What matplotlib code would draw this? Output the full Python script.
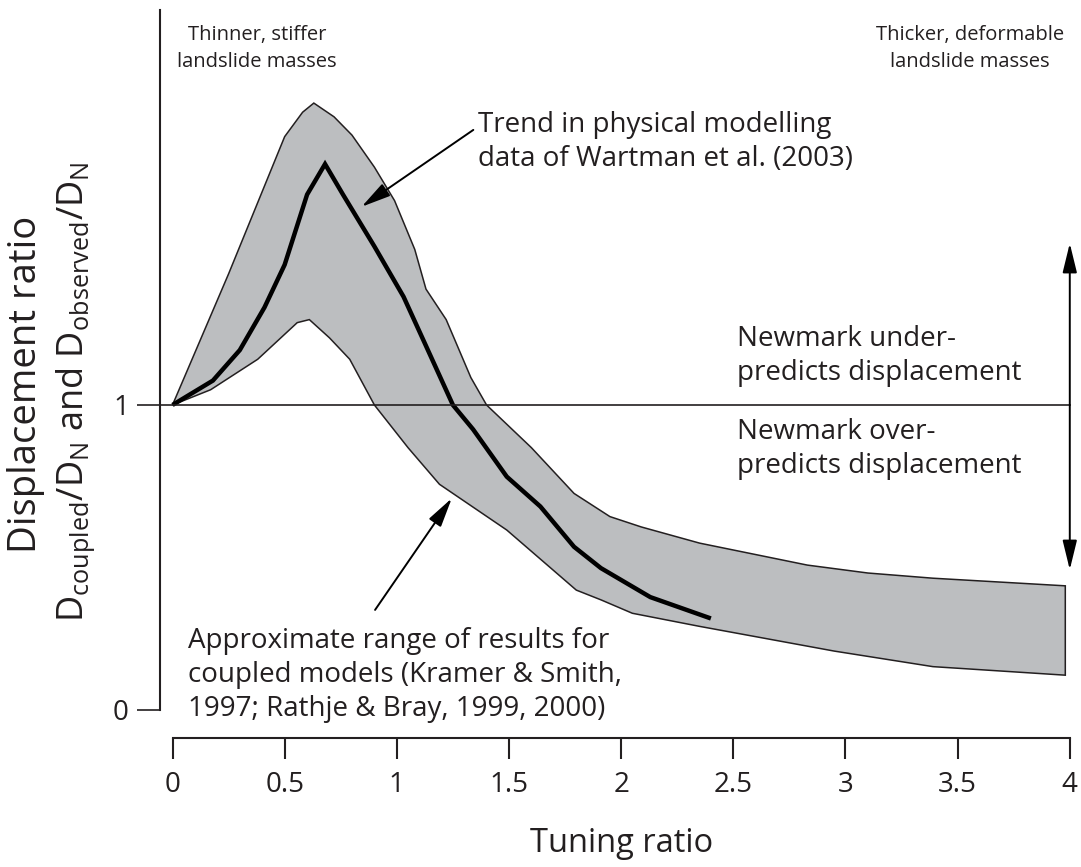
import numpy as np
import matplotlib.pyplot as plt

plt.rcParams['font.family'] = ['Open Sans', 'DejaVu Sans']
plt.rcParams['mathtext.fontset'] = 'custom'
plt.rcParams['mathtext.rm'] = 'Open Sans'
plt.rcParams['mathtext.it'] = 'Open Sans:italic'

ink = '#231f20'
band_grey = '#bcbec0'

# upper edge of the range of coupled-model results
upper_x = [0.00, 0.25, 0.50, 0.58, 0.63, 0.72, 0.80, 0.90, 0.99, 1.08, 1.13,
           1.22, 1.33, 1.40, 1.60, 1.79, 1.95, 2.09, 2.35, 2.83, 3.10, 3.39, 3.98]
upper_y = [1.00, 1.43, 1.88, 1.96, 1.99, 1.945, 1.885, 1.78, 1.67, 1.51, 1.38,
           1.28, 1.09, 1.00, 0.86, 0.71, 0.634, 0.60, 0.547, 0.475, 0.449, 0.432, 0.407]

# lower edge
lower_x = [0.00, 0.17, 0.38, 0.556, 0.61, 0.70, 0.79, 0.90, 1.05, 1.19, 1.49,
           1.80, 1.91, 2.05, 2.35, 2.95, 3.39, 3.98]
lower_y = [1.00, 1.05, 1.15, 1.27, 1.28, 1.22, 1.15, 1.00, 0.86, 0.74, 0.59,
           0.393, 0.361, 0.317, 0.274, 0.193, 0.142, 0.114]

# Wartman et al. (2003) physical modelling trend
trend_x = [0.00, 0.18, 0.30, 0.41, 0.50, 0.60, 0.68, 0.76, 0.90, 1.03, 1.12,
           1.25, 1.34, 1.49, 1.64, 1.79, 1.91, 2.13, 2.40]
trend_y = [1.00, 1.08, 1.18, 1.32, 1.46, 1.69, 1.79, 1.69, 1.52, 1.355, 1.21,
           1.00, 0.92, 0.765, 0.667, 0.535, 0.465, 0.37, 0.30]

x_ticks = [0, 0.5, 1, 1.5, 2, 2.5, 3, 3.5, 4]
x_tick_labels = ['0', '0.5', '1', '1.5', '2', '2.5', '3', '3.5', '4']
y_ticks = [0, 1]
y_tick_labels = ['0', '1']

newmark_ratio = 1.0
x_max = 4.0

fig = plt.figure(figsize=(10.81, 8.67), dpi=100)
ax = fig.add_axes([0, 0, 1, 1])

# shaded band
band_x = np.r_[upper_x, lower_x[::-1]]
band_y = np.r_[upper_y, lower_y[::-1]]
ax.fill(band_x, band_y, facecolor=band_grey, edgecolor=ink, lw=1.1, joinstyle='miter')

# trend line
ax.plot(trend_x, trend_y, color='black', lw=3.2, solid_capstyle='butt', solid_joinstyle='miter')

# ratio = 1 reference line
y_axis_x = -0.055
ax.plot([y_axis_x, x_max], [newmark_ratio, newmark_ratio], color=ink, lw=1.2)

# under/over-prediction double arrow
arrow_style = dict(color='black', lw=1.4, shrinkA=0, shrinkB=0, mutation_scale=20)
ax.annotate('', xy=(x_max, 1.53), xytext=(x_max, 0.46),
            arrowprops=dict(arrowstyle='<|-|>,head_length=0.9,head_width=0.22', **arrow_style))

# annotations
txt = dict(color=ink, fontsize=20, linespacing=1.3)
ax.annotate('', xy=(0.843, 1.650), xytext=(1.341, 1.902),
            arrowprops=dict(arrowstyle='-|>,head_length=0.9,head_width=0.22', **arrow_style))
ax.text(1.362, 1.862, 'Trend in physical modelling\ndata of Wartman et al. (2003)',
        ha='left', va='center', **txt)

ax.annotate('', xy=(1.245, 0.694), xytext=(0.903, 0.328),
            arrowprops=dict(arrowstyle='-|>,head_length=0.9,head_width=0.22', **arrow_style))
ax.text(0.069, 0.115, 'Approximate range of results for\ncoupled models (Kramer & Smith,\n'
        '1997; Rathje & Bray, 1999, 2000)', ha='left', va='center', **txt)

ax.text(2.515, 1.161, 'Newmark under-\npredicts displacement', ha='left', va='center', **txt)
ax.text(2.515, 0.856, 'Newmark over-\npredicts displacement', ha='left', va='center', **txt)

ax.text(0.377, 2.170, 'Thinner, stiffer\nlandslide masses', ha='center', va='center',
        color=ink, fontsize=14.5, linespacing=1.45)
ax.text(3.556, 2.170, 'Thicker, deformable\nlandslide masses', ha='center', va='center',
        color=ink, fontsize=14.5, linespacing=1.45)

# axis labels
ax.text(-0.655, 1.066, 'Displacement ratio', rotation=90, ha='center', va='center',
        color=ink, fontsize=27.5)
ax.text(-0.43, 1.043, r'$\mathregular{D_{coupled}/D_N}$ and $\mathregular{D_{observed}/D_N}$',
        rotation=90, ha='center', va='center', color=ink, fontsize=26)
ax.set_xlabel('Tuning ratio', fontsize=23.5, color=ink, labelpad=20)
ax.xaxis.label.set_x(0.575)

# axes
ax.set_xlim(-0.769, 4.050)
ax.set_ylim(-0.515, 2.328)
for side in ['top', 'right']:
    ax.spines[side].set_visible(False)
ax.spines['left'].set_position(('data', y_axis_x))
ax.spines['left'].set_bounds(0, 2.295)
ax.spines['bottom'].set_position(('data', -0.092))
ax.spines['bottom'].set_bounds(0, x_max)
for side in ['left', 'bottom']:
    ax.spines[side].set_linewidth(1.5)
    ax.spines[side].set_color(ink)

ax.set_xticks(x_ticks)
ax.set_xticklabels(x_tick_labels)
ax.set_yticks(y_ticks)
ax.set_yticklabels(y_tick_labels)
ax.tick_params(axis='x', direction='out', length=15, width=1.5, color=ink,
               labelsize=20, labelcolor=ink, pad=9)
ax.tick_params(axis='y', direction='out', length=16.5, width=1.2, color=ink,
               labelsize=20, labelcolor=ink, pad=6)

fig.savefig('out.png', dpi=100)
